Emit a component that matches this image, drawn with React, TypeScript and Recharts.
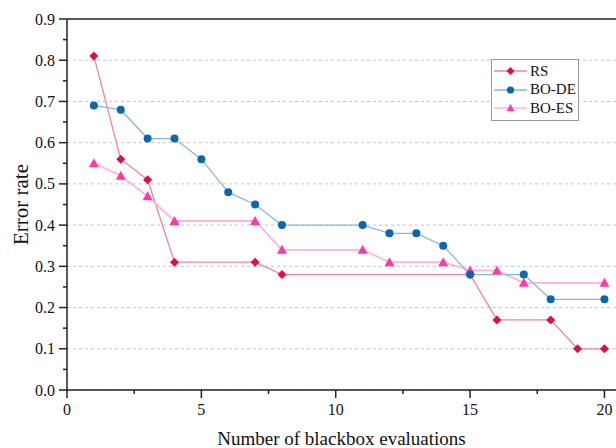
import React from "react";
import { LineChart, Line, XAxis, YAxis, ReferenceLine } from "recharts";

const rsEvals = [1, 2, 3, 4, 7, 8, 15, 16, 18, 19, 20];
const rsError = [0.81, 0.56, 0.51, 0.31, 0.31, 0.28, 0.28, 0.17, 0.17, 0.1, 0.1];

const deEvals = [1, 2, 3, 4, 5, 6, 7, 8, 11, 12, 13, 14, 15, 17, 18, 20];
const deError = [0.69, 0.68, 0.61, 0.61, 0.56, 0.48, 0.45, 0.4, 0.4, 0.38, 0.38, 0.35, 0.28, 0.28, 0.22, 0.22];

const esEvals = [1, 2, 3, 4, 7, 8, 11, 12, 14, 15, 16, 17, 20];
const esError = [0.55, 0.52, 0.47, 0.41, 0.41, 0.34, 0.34, 0.31, 0.31, 0.29, 0.29, 0.26, 0.26];

const xTicks = [0, 2.5, 5, 7.5, 10, 12.5, 15, 17.5, 20];
const yTicks = [0, 0.05, 0.1, 0.15, 0.2, 0.25, 0.3, 0.35, 0.4, 0.45, 0.5, 0.55, 0.6, 0.65, 0.7, 0.75, 0.8, 0.85, 0.9];
const gridValues = [0, 0.1, 0.2, 0.3, 0.4, 0.5, 0.6, 0.7, 0.8];

const RS = { name: "RS", line: "#f2849c", mark: "#dc0f46" };
const DE = { name: "BO-DE", line: "#86b8de", mark: "#0a66ad" };
const ES = { name: "BO-ES", line: "#ffb4da", mark: "#ff3aa6" };

// merge the three series into one table keyed by evaluation count
const evalSet = Array.from(new Set([...rsEvals, ...deEvals, ...esEvals])).sort((a, b) => a - b);
const data = evalSet.map((x) => ({
  x,
  rs: rsEvals.includes(x) ? rsError[rsEvals.indexOf(x)] : null,
  de: deEvals.includes(x) ? deError[deEvals.indexOf(x)] : null,
  es: esEvals.includes(x) ? esError[esEvals.indexOf(x)] : null,
}));

const FONT = "'Liberation Serif', 'Times New Roman', serif";

const Diamond = ({ cx, cy, fill, size = 4.5 }: any) =>
  cx == null || cy == null ? null : (
    <path d={`M${cx},${cy - size}L${cx + size},${cy}L${cx},${cy + size}L${cx - size},${cy}Z`} fill={fill} />
  );
const Circle = ({ cx, cy, fill, r = 4 }: any) =>
  cx == null || cy == null ? null : <circle cx={cx} cy={cy} r={r} fill={fill} />;
const Triangle = ({ cx, cy, fill, size = 5 }: any) =>
  cx == null || cy == null ? null : (
    <path d={`M${cx},${cy - size}L${cx + size},${cy + size * 0.8}L${cx - size},${cy + size * 0.8}Z`} fill={fill} />
  );

const isMajor = (v: number, step: number) => Math.abs(v / step - Math.round(v / step)) < 1e-6;

const YTick = ({ x, y, payload }: any) => {
  const major = isMajor(payload.value, 0.1);
  return (
    <g>
      <line x1={major ? x + 4 : x + 8} x2={x + 12} y1={y} y2={y} stroke="#222" strokeWidth={1.5} />
      {major && (
        <text x={x} y={y} dy={5.5} textAnchor="end" fontSize={16} fontFamily={FONT} fill="#111">
          {payload.value.toFixed(1)}
        </text>
      )}
    </g>
  );
};

const XTick = ({ x, y, payload }: any) => {
  const major = isMajor(payload.value, 5);
  return (
    <g>
      <line x1={x} x2={x} y1={y - 12} y2={major ? y - 4 : y - 8} stroke="#222" strokeWidth={1.5} />
      {major && (
        <text x={x} y={y} dy={13} textAnchor="middle" fontSize={16} fontFamily={FONT} fill="#111">
          {payload.value}
        </text>
      )}
    </g>
  );
};

const LegendBox = () => {
  const rows = [
    { s: RS, Mark: Diamond },
    { s: DE, Mark: Circle },
    { s: ES, Mark: Triangle },
  ];
  return (
    <div
      style={{
        position: "absolute",
        left: 491,
        top: 59,
        border: "1px solid #999",
        background: "#fff",
        width: 86,
        padding: "2px 0",
        fontFamily: FONT,
        fontSize: 15,
        color: "#111",
      }}
    >
      {rows.map(({ s, Mark }) => (
        <div key={s.name} style={{ display: "flex", alignItems: "center", height: 18.5 }}>
          <svg width={38} height={14} style={{ flex: "none" }}>
            <line x1={2} x2={35} y1={7} y2={7} stroke={s.line} strokeWidth={1.5} />
            <Mark cx={18.5} cy={7} fill={s.mark} size={4} r={3.6} />
          </svg>
          <span>{s.name}</span>
        </div>
      ))}
    </div>
  );
};

export default function App() {
  return (
    <div style={{ position: "absolute", left: 0, top: 0, width: 616, height: 448, background: "#fff", overflow: "hidden" }}>
      <LineChart width={616} height={448} data={data} margin={{ top: 19, right: 0, bottom: 0, left: 7 }}>
        {gridValues.map((v) => (
          <ReferenceLine key={v} y={v} stroke="#c4c4c4" strokeDasharray="3 3" strokeWidth={1} />
        ))}
        <ReferenceLine y={0.9} stroke="#222" strokeWidth={1.5} />
        <XAxis
          dataKey="x"
          type="number"
          domain={[0, 20.43]}
          ticks={xTicks}
          allowDataOverflow
          height={58}
          stroke="#222"
          strokeWidth={1.5}
          tickLine={false}
          tickSize={8}
          tickMargin={4}
          interval={0}
          tick={<XTick />}
          label={{
            value: "Number of blackbox evaluations",
            position: "insideBottom",
            offset: 3,
            style: { fontFamily: FONT, fontSize: 19, fill: "#111" },
          }}
        />
        <YAxis
          type="number"
          domain={[0, 0.9]}
          ticks={yTicks}
          width={60}
          stroke="#222"
          strokeWidth={1.5}
          tickLine={false}
          tickSize={8}
          tickMargin={4}
          interval={0}
          tick={<YTick />}
          label={{
            value: "Error rate",
            angle: -90,
            position: "insideLeft",
            offset: 14,
            style: { fontFamily: FONT, fontSize: 21, fill: "#111", textAnchor: "middle" },
          }}
        />
        <Line
          dataKey="rs"
          name={RS.name}
          stroke={RS.line}
          strokeWidth={1.3}
          connectNulls
          isAnimationActive={false}
          dot={(p: any) => <Diamond key={p.index} cx={p.cx} cy={p.cy} fill={RS.mark} />}
          activeDot={false}
        />
        <Line
          dataKey="es"
          name={ES.name}
          stroke={ES.line}
          strokeWidth={1.8}
          connectNulls
          isAnimationActive={false}
          dot={(p: any) => <Triangle key={p.index} cx={p.cx} cy={p.cy} fill={ES.mark} />}
          activeDot={false}
        />
        <Line
          dataKey="de"
          name={DE.name}
          stroke={DE.line}
          strokeWidth={1.3}
          connectNulls
          isAnimationActive={false}
          dot={(p: any) => <Circle key={p.index} cx={p.cx} cy={p.cy} fill={DE.mark} />}
          activeDot={false}
        />
      </LineChart>
      <LegendBox />
    </div>
  );
}
